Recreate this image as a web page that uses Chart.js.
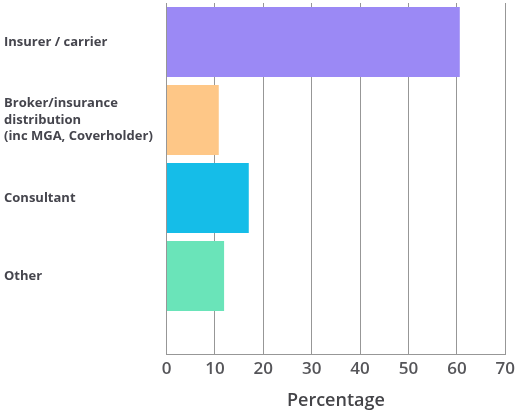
<!DOCTYPE html>
<html>
<head>
<meta charset="utf-8">
<script src="https://cdn.jsdelivr.net/npm/chart.js@4"></script>
<style>
  html, body { margin: 0; padding: 0; background: #ffffff; }
  #wrap { width: 520px; height: 412px; position: relative; }
</style>
</head>
<body>
<div id="wrap"><canvas id="chart" width="520" height="412"></canvas></div>
<script>
// Respondent organisation type, share of respondents (%)
const categories = [
  ['Insurer / carrier'],
  ['Broker/insurance', 'distribution', '(inc MGA, Coverholder)'],
  ['Consultant'],
  ['Other']
];
const percentages = [60.6, 10.8, 17.0, 11.9];
const barColors = ['#9b89f5', '#fec787', '#15bde8', '#6ae4b9'];
const xTicks = [0, 10, 20, 30, 40, 50, 60, 70];

const points = percentages.map((v, i) => ({ x: v, y: i }));

const FONT = "'Open Sans', 'DejaVu Sans', sans-serif";
const GRID = '#979797';

new Chart(document.getElementById('chart'), {
  type: 'bar',
  data: {
    datasets: [{
      data: points,
      backgroundColor: barColors,
      borderWidth: 0,
      categoryPercentage: 0.9,
      barPercentage: 1.0
    }]
  },
  options: {
    indexAxis: 'y',
    responsive: false,
    animation: false,
    layout: { padding: { left: 4, right: 14, top: 3, bottom: 0 } },
    plugins: { legend: { display: false }, tooltip: { enabled: false } },
    scales: {
      x: {
        type: 'linear',
        min: 0,
        max: 70,
        afterBuildTicks: (scale) => { scale.ticks = xTicks.map(v => ({ value: v })); },
        afterFit: (scale) => { scale.height = 58; },
        grid: { color: GRID, lineWidth: 1, drawTicks: false },
        border: { color: GRID, width: 1 },
        ticks: {
          padding: 5,
          color: '#555559',
          font: { family: FONT, size: 17, weight: '600' }
        },
        title: {
          display: true,
          text: 'Percentage',
          color: '#444448',
          padding: { top: 13, bottom: 0 },
          font: { family: FONT, size: 18, weight: '600' }
        }
      },
      y: {
        type: 'linear',
        offset: false,
        reverse: true,
        min: -0.5,
        max: 4,
        afterBuildTicks: (scale) => { scale.ticks = categories.map((c, i) => ({ value: i })); },
        afterFit: (scale) => {
          scale.width = 162.5;
          scale.paddingTop = 0;
          scale.paddingBottom = 0;
        },
        grid: { display: false },
        border: { display: true, color: GRID, width: 1 },
        ticks: {
          crossAlign: 'far',
          color: '#45454d',
          callback: (v) => categories[v],
          font: { family: FONT, size: 13, weight: 'bold', lineHeight: 1.28 }
        }
      }
    }
  }
});
</script>
</body>
</html>
